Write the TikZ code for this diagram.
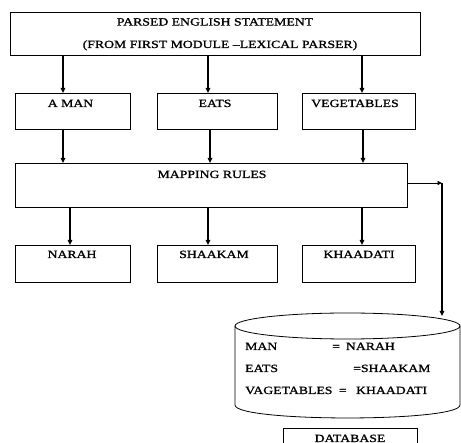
\documentclass[tikz,border=0pt]{standalone}
\usepackage{fontspec}
\setmainfont{Liberation Serif}[FakeStretch=1.25,FakeBold=1.2]
\usetikzlibrary{arrows.meta}
\begin{document}
\begin{tikzpicture}[x=1pt,y=-1pt,
  box/.style={draw, line width=0.8pt, rectangle, inner sep=0pt, anchor=north west},
  lbl/.style={inner sep=0pt, anchor=base, font=\fontsize{11}{13}\selectfont},
  lblw/.style={lbl, anchor=base west},
  flow/.style={line width=1.4pt, -{Triangle[length=5pt,width=4.5pt]}},
  thinflow/.style={line width=0.8pt, -{Triangle[length=4.5pt,width=4pt]}},
]
\useasboundingbox (0,0) rectangle (461,443);
\clip (0,0) rectangle (461,443);

% boxes
\node[box, minimum width=410pt, minimum height=43pt] (top) at (10,12) {};
\node[box, minimum width=115pt, minimum height=36pt] (aman) at (15,93) {};
\node[box, minimum width=120pt, minimum height=36pt] (eats) at (157,93) {};
\node[box, minimum width=113pt, minimum height=36pt] (veg) at (302,93) {};
\node[box, minimum width=392pt, minimum height=44pt] (map) at (15,163) {};
\node[box, minimum width=115pt, minimum height=37pt] (narah) at (15,245) {};
\node[box, minimum width=120pt, minimum height=37pt] (shaakam) at (157,245) {};
\node[box, minimum width=113pt, minimum height=37pt] (khaadati) at (302,245) {};
\node[box, minimum width=134pt, minimum height=30pt] (dbbox) at (283,428) {};

% labels
\node[lbl] (t1) at (215,25.5) {PARSED ENGLISH STATEMENT};
\node[lbl] (t2) at (220,48) {(FROM FIRST MODULE –LEXICAL PARSER)};
\node[lbl] (l1) at (70.5,107) {A MAN};
\node[lbl] (l2) at (215,107) {EATS};
\node[lbl] (l3) at (355,107) {VEGETABLES};
\node[lbl] (l4) at (212,178) {MAPPING RULES};
\node[lbl] (l5) at (72,258) {NARAH};
\node[lbl] (l6) at (214,258) {SHAAKAM};
\node[lbl] (l7) at (359,258) {KHAADATI};
\node[lbl] (l8) at (350,442) {DATABASE};

% cylinder
\draw[line width=0.8pt] (347.5,326) ellipse[x radius=112.5, y radius=13];
\draw[line width=0.8pt] (235,326) -- (235,405) .. controls (235,422.3) and (460,422.3) .. (460,405) -- (460,326);
\node[lblw] (c1) at (245,350) {MAN};
\node[lblw] (c2) at (332,350) {=\hspace{6pt}NARAH};
\node[lblw] (c3) at (245,372) {EATS};
\node[lblw] (c4) at (353,372) {=SHAAKAM};
\node[lblw] (c5) at (245,394) {VAGETABLES\hspace{3pt} = \hspace{6pt}KHAADATI};

% arrow columns
\coordinate (xa) at (63,0);
\coordinate (xb) at (208,0);
\coordinate (xc) at (362,0);
\coordinate (xd) at (210,0);
\coordinate (xe) at (363,0);
\coordinate (xf) at (70,0);

\draw[flow] (top.south -| xa) -- (aman.north -| xa);
\draw[flow] (top.south -| xb) -- (eats.north -| xb);
\draw[flow] (top.south -| xc) -- (veg.north -| xc);
\draw[flow] (aman.south -| xa) -- (map.north -| xa);
\draw[flow] (eats.south -| xd) -- (map.north -| xd);
\draw[flow] (veg.south -| xe) -- (map.north -| xe);
\draw[flow] (map.south -| xf) -- (narah.north -| xf);
\draw[flow] (map.south -| xb) -- (shaakam.north -| xb);
\draw[flow] (map.south -| xc) -- (khaadati.north -| xc);

% to database
\coordinate (corner) at (442,183);
\coordinate (dbtop) at (442,316);
\draw[thinflow] (map.east |- corner) -- (corner);
\draw[flow] (corner) -- (dbtop);
\end{tikzpicture}
\end{document}
